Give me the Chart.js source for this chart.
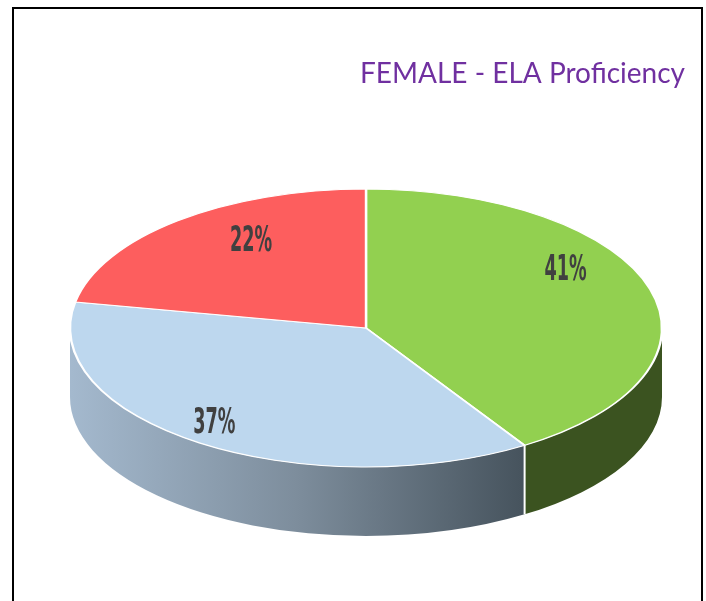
<!DOCTYPE html>
<html lang="en">

<head>
    <meta charset="UTF-8">
    <title>FEMALE - ELA Proficiency</title>
    <style>
        html, body { margin: 0; padding: 0; background: #fff; overflow: hidden; }
        #wrap { position: relative; width: 706px; height: 601px; }
        #frame {
            position: absolute; left: 12px; top: 7px; width: 691px; height: 640px;
            box-sizing: border-box; border: 2px solid #000; border-bottom: none;
        }
        canvas { position: absolute; left: 0; top: 0; }
    </style>
</head>

<body>
    <div id="wrap">
        <div id="frame"></div>
        <canvas id="mychart" width="706" height="601"></canvas>
    </div>

    <script src="https://cdn.jsdelivr.net/npm/chart.js@4"></script>
    <script>
        // data
        var categories = ['Category 1', 'Category 2', 'Category 3'];
        var percents = [41, 37, 22];
        var chartTitle = 'FEMALE - ELA Proficiency';

        // look of the 3d pie
        var topColors = ['#92d050', '#bdd7ee', '#fd5e5e'];
        var pieCx = 366, pieCy = 328, pieRx = 296, pieRy = 139, pieDepth = 69;

        function sideFill(ctx, i, x0, x1) {
            if (i == 1) {
                var g = ctx.createLinearGradient(x0, 0, x1, 0);
                g.addColorStop(0, '#a4b9ce');
                g.addColorStop(0.5, '#7d8d9c');
                g.addColorStop(1, '#46535d');
                return g;
            }
            if (i == 0) return '#3b5320';
            return '#a03a3a';
        }

        var pie3d = {
            id: 'pie3d',
            beforeDatasetsDraw: function (chart) {
                var ctx = chart.ctx;
                var meta = chart.getDatasetMeta(0);

                // side walls, only the front half shows
                meta.data.forEach(function (arc, i) {
                    var s = Math.max(arc.startAngle, 0);
                    var e = Math.min(arc.endAngle, Math.PI);
                    if (e <= s) return;
                    var xs = pieCx + pieRx * Math.cos(s);
                    var xe = pieCx + pieRx * Math.cos(e);
                    ctx.save();
                    ctx.beginPath();
                    ctx.ellipse(pieCx, pieCy, pieRx, pieRy, 0, s, e, false);
                    ctx.ellipse(pieCx, pieCy + pieDepth, pieRx, pieRy, 0, e, s, true);
                    ctx.closePath();
                    ctx.fillStyle = sideFill(ctx, i, Math.min(xs, xe), Math.max(xs, xe));
                    ctx.fill();
                    // white edge where a slice starts inside the front
                    if (arc.startAngle > 0 && arc.startAngle < Math.PI) {
                        var y = pieCy + pieRy * Math.sin(arc.startAngle);
                        ctx.beginPath();
                        ctx.moveTo(xs, y);
                        ctx.lineTo(xs, y + pieDepth);
                        ctx.strokeStyle = '#fff';
                        ctx.lineWidth = 2;
                        ctx.stroke();
                    }
                    ctx.restore();
                });

                // squash the flat pie into the top face
                var a0 = meta.data[0];
                ctx.save();
                ctx.translate(pieCx, pieCy);
                ctx.scale(pieRx / a0.outerRadius, pieRy / a0.outerRadius);
                ctx.translate(-a0.x, -a0.y);
            },
            afterDatasetsDraw: function (chart) {
                var ctx = chart.ctx;
                ctx.restore();

                var meta = chart.getDatasetMeta(0);
                meta.data.forEach(function (arc, i) {
                    var mid = (arc.startAngle + arc.endAngle) / 2;
                    var c = Math.cos(mid), s = Math.sin(mid);
                    // front labels sit a bit further out (fake perspective)
                    var f = 0.755 + 0.19 * s;
                    var x = pieCx + pieRx * f * c;
                    var y = pieCy + pieRy * f * s - 20 - 8 * c + 8 * s;
                    ctx.save();
                    ctx.translate(x, y);
                    ctx.scale(0.56, 1);
                    ctx.font = 'bold 35px "DejaVu Sans Condensed", "Liberation Sans Narrow", sans-serif';
                    ctx.fillStyle = '#404040';
                    ctx.textAlign = 'center';
                    ctx.textBaseline = 'middle';
                    ctx.fillText(percents[i] + '%', 0, 0);
                    ctx.restore();
                });
            }
        };

        const ctx = document.getElementById('mychart');

        var mychart = new Chart(ctx, {
            type: 'pie',
            data: {
                labels: categories,
                datasets: [{
                    data: percents,
                    backgroundColor: topColors,
                    borderColor: '#ffffff',
                    borderWidth: 2
                }]
            },
            options: {
                responsive: false,
                animation: false,
                layout: {
                    padding: { top: 10, right: 21, bottom: 10, left: 20 }
                },
                plugins: {
                    legend: { display: false },
                    tooltip: { enabled: false },
                    title: {
                        display: true,
                        text: chartTitle,
                        align: 'end',
                        color: '#7030a0',
                        font: { family: 'Lato', size: 28, weight: 'normal' },
                        padding: { top: 47, bottom: 10 }
                    }
                }
            },
            plugins: [pie3d]
        });
    </script>
</body>

</html>
